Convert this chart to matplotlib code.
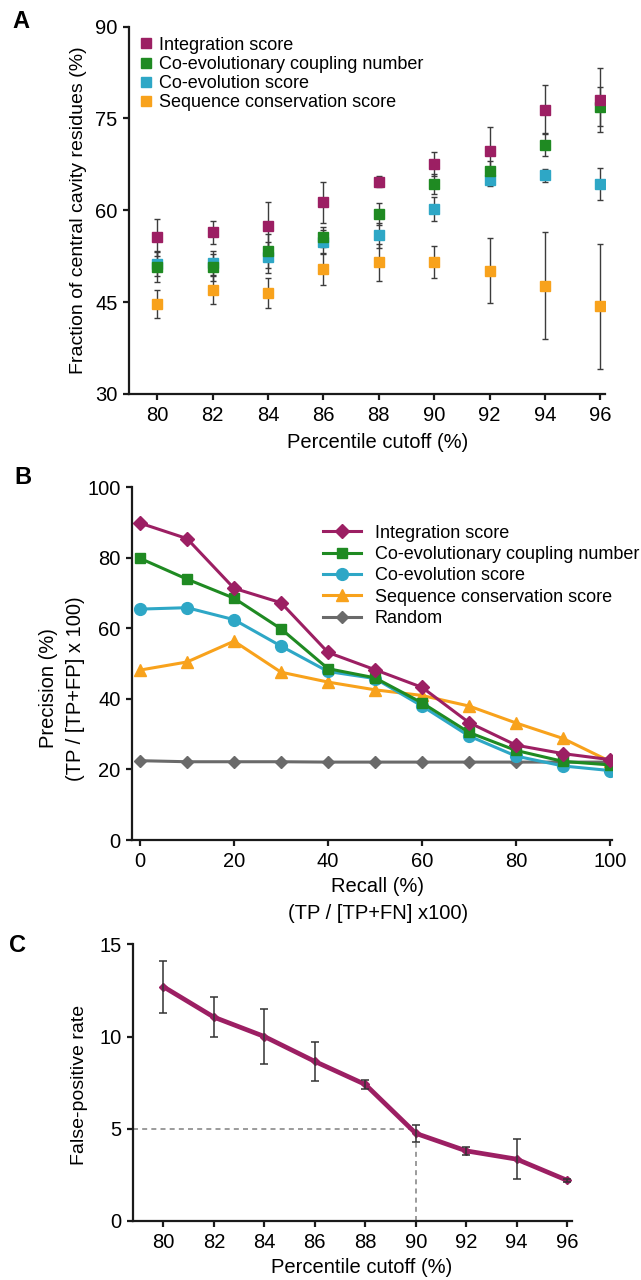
import matplotlib
matplotlib.use("Agg")
import matplotlib.pyplot as plt

plt.rcParams['font.family'] = ['Liberation Sans', 'DejaVu Sans']

# ---- Panel A: fraction of central cavity residues ----
cutoffs = [80, 82, 84, 86, 88, 90, 92, 94, 96]
a_integ = [55.6, 56.4, 57.5, 61.3, 64.7, 67.6, 69.7, 76.4, 78.0]
a_integ_err = [3.0, 1.9, 3.8, 3.4, 0.9, 2.0, 3.9, 4.0, 5.2]
a_coupl = [50.8, 50.7, 53.3, 55.6, 59.4, 64.3, 66.5, 70.7, 76.9]
a_coupl_err = [2.5, 2.2, 2.8, 1.6, 1.8, 1.6, 1.6, 1.9, 3.2]
a_coevo = [51.2, 51.4, 52.3, 54.8, 55.9, 60.2, 65.0, 65.7, 64.3]
a_coevo_err = [2.0, 2.0, 2.5, 2.0, 2.0, 2.0, 1.0, 1.0, 2.6]
a_cons = [44.7, 47.0, 46.5, 50.4, 51.5, 51.6, 50.1, 47.7, 44.3]
a_cons_err = [2.3, 2.3, 2.4, 2.6, 3.0, 2.6, 5.3, 8.7, 10.2]

# ---- Panel B: precision vs recall ----
recall = [0, 10, 20, 30, 40, 50, 60, 70, 80, 90, 100]
b_integ = [89.9, 85.5, 71.4, 67.3, 53.2, 48.3, 43.3, 33.3, 26.9, 24.5, 22.8]
b_coupl = [79.9, 74.0, 68.6, 59.9, 48.6, 46.0, 38.9, 30.5, 25.4, 22.3, 21.3]
b_coevo = [65.5, 65.9, 62.5, 55.0, 47.8, 45.8, 38.0, 29.5, 23.8, 21.0, 19.7]
b_cons = [48.2, 50.5, 56.4, 47.6, 44.8, 42.6, 41.0, 38.0, 33.2, 28.8, 22.3]
b_random = [22.5, 22.2, 22.2, 22.2, 22.1, 22.1, 22.1, 22.1, 22.1, 22.1, 22.1]

# ---- Panel C: false-positive rate ----
c_fpr = [12.7, 11.05, 10.0, 8.65, 7.4, 4.75, 3.8, 3.35, 2.2]
c_fpr_err = [1.4, 1.1, 1.5, 1.05, 0.25, 0.45, 0.22, 1.08, 0.1]
fpr_threshold = 5
cutoff_threshold = 90

labels = ['Integration score', 'Co-evolutionary coupling number',
          'Co-evolution score', 'Sequence conservation score', 'Random']
purple = '#9c1f63'
green = '#1f8a22'
cyan = '#2ea7c6'
orange = '#f8a21c'
gray = '#6a6a6a'
dark = '#1a1a1a'


def style(ax):
    for s in ['top', 'right']:
        ax.spines[s].set_visible(False)
    for s in ['left', 'bottom']:
        ax.spines[s].set_linewidth(1.6)
        ax.spines[s].set_color(dark)
    ax.tick_params(length=4.5, width=1.6, labelsize=14.5, pad=4, color=dark)


fig = plt.figure(figsize=(6.41, 12.8), dpi=100)

# Panel A
axA = fig.add_axes([0.2017, 0.6922, 0.7415, 0.287])
style(axA)
seriesA = [(a_cons, a_cons_err, orange, labels[3]),
           (a_coevo, a_coevo_err, cyan, labels[2]),
           (a_coupl, a_coupl_err, green, labels[1]),
           (a_integ, a_integ_err, purple, labels[0])]
handlesA = {}
for y, e, c, lab in seriesA:
    axA.errorbar(cutoffs, y, yerr=e, fmt='none', ecolor='#3c3c3c',
                 elinewidth=1.0, capsize=2.3, capthick=1.0, zorder=2)
    h, = axA.plot(cutoffs, y, 's', color=c, ms=7.5, label=lab, zorder=3)
    handlesA[lab] = h
axA.set_xlim(78.99, 96.15)
axA.set_ylim(30, 90)
axA.set_xticks(cutoffs)
axA.set_yticks([30, 45, 60, 75, 90])
axA.set_xlabel('Percentile cutoff (%)', fontsize=14.5)
axA.set_ylabel('Fraction of central cavity residues (%)', fontsize=14)
axA.xaxis.set_label_coords(0.523, -0.105)
axA.yaxis.set_label_coords(-0.088, 0.5)
axA.legend([handlesA[l] for l in labels[:4]], labels[:4],
           loc='upper left', bbox_to_anchor=(0.2176, 0.9713),
           bbox_transform=fig.transFigure, frameon=False, fontsize=13,
           handlelength=0.75, handletextpad=0.35, labelspacing=0.12,
           borderpad=0, borderaxespad=0)

# Panel B
axB = fig.add_axes([0.2067, 0.34375, 0.748, 0.2754])
style(axB)
hr, = axB.plot(recall, b_random, '-', color=gray, lw=2.2, marker='D', ms=6.5, zorder=2)
hs, = axB.plot(recall, b_cons, '-', color=orange, lw=2.2, marker='^', ms=8.5, zorder=3)
hc, = axB.plot(recall, b_coevo, '-', color=cyan, lw=2.2, marker='o', ms=8.5, zorder=4)
hn, = axB.plot(recall, b_coupl, '-', color=green, lw=2.2, marker='s', ms=7.5, zorder=5)
hi, = axB.plot(recall, b_integ, '-', color=purple, lw=2.2, marker='D', ms=7, zorder=6)
axB.set_xlim(-1.6, 100.4)
axB.set_ylim(0, 100)
axB.set_xticks([0, 20, 40, 60, 80, 100])
axB.set_yticks([0, 20, 40, 60, 80, 100])
axB.set_xlabel('Recall (%)\n(TP / [TP+FN] x100)', fontsize=14.5, linespacing=1.55)
axB.set_ylabel('Precision (%)\n(TP / [TP+FP] x 100)', fontsize=14.5, linespacing=1.5)
axB.xaxis.set_label_coords(0.512, -0.104)
axB.yaxis.set_label_coords(-0.1, 0.43)
axB.legend([hi, hn, hc, hs, hr], labels, loc='upper left',
           bbox_to_anchor=(0.504, 0.5902), bbox_transform=fig.transFigure,
           frameon=False, fontsize=13, handlelength=2.1, handletextpad=0.75,
           labelspacing=0.24, borderpad=0, borderaxespad=0)

# Panel C
axC = fig.add_axes([0.208, 0.0461, 0.6844, 0.2162])
style(axC)
axC.hlines(fpr_threshold, 78.81, cutoff_threshold, colors='#8a8a8a',
           linestyles=(0, (3, 2.5)), lw=1.2, zorder=1)
axC.vlines(cutoff_threshold, 0, fpr_threshold, colors='#8a8a8a',
           linestyles=(0, (3, 2.5)), lw=1.2, zorder=1)
axC.plot(cutoffs, c_fpr, '-', color=purple, lw=3.4, marker='D', ms=4, zorder=2)
axC.errorbar(cutoffs, c_fpr, yerr=c_fpr_err, fmt='none', ecolor='#333333',
             elinewidth=1.1, capsize=3, capthick=1.1, zorder=3)
axC.set_xlim(78.81, 96.19)
axC.set_ylim(0, 15)
axC.set_xticks(cutoffs)
axC.set_yticks([0, 5, 10, 15])
axC.set_xlabel('Percentile cutoff (%)', fontsize=14.5)
axC.set_ylabel('False-positive rate', fontsize=14)
axC.xaxis.set_label_coords(0.521, -0.135)
axC.yaxis.set_label_coords(-0.103, 0.49)

# panel letters
fig.text(0.032, 1 - 22 / 1280, 'A', fontsize=17, fontweight='bold', ha='center', va='center')
fig.text(0.036, 1 - 477 / 1280, 'B', fontsize=17, fontweight='bold', ha='center', va='center')
fig.text(0.028, 1 - 946 / 1280, 'C', fontsize=17, fontweight='bold', ha='center', va='center')

fig.savefig('out.png', dpi=100)
